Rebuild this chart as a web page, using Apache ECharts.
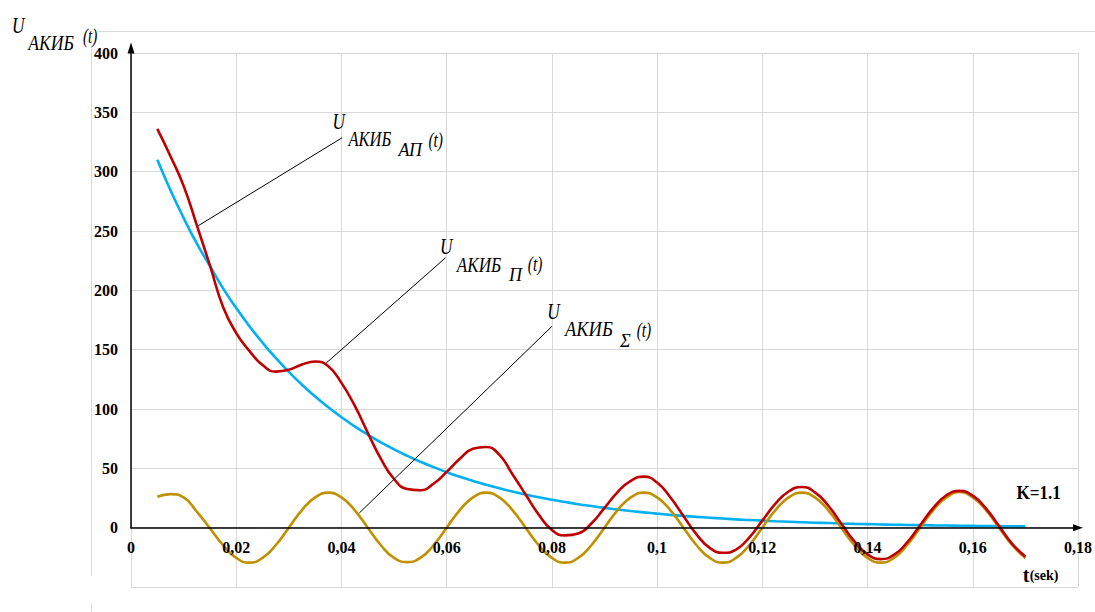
<!DOCTYPE html>
<html>
<head>
<meta charset="utf-8">
<script src="https://cdn.jsdelivr.net/npm/echarts@6/dist/echarts.min.js"></script>
<style>
  html, body { margin: 0; padding: 0; background: #ffffff; }
  #chart { width: 1095px; height: 612px; }
</style>
</head>
<body>
<div id="chart"></div>
<script>
// Time samples, s
const tValues = [
  0.005, 0.0075, 0.01, 0.0125, 0.015, 0.0175, 0.02, 0.0225, 0.025, 0.0275,
  0.03, 0.0325, 0.035, 0.0375, 0.04, 0.0425, 0.045, 0.0475, 0.05, 0.0525,
  0.055, 0.0575, 0.06, 0.0625, 0.065, 0.0675, 0.07, 0.0725, 0.075, 0.0775,
  0.08, 0.0825, 0.085, 0.0875, 0.09, 0.0925, 0.095, 0.0975, 0.1, 0.1025,
  0.105, 0.1075, 0.11, 0.1125, 0.115, 0.1175, 0.12, 0.1225, 0.125, 0.1275,
  0.13, 0.1325, 0.135, 0.1375, 0.14, 0.1425, 0.145, 0.1475, 0.15, 0.1525,
  0.155, 0.1575, 0.16, 0.1625, 0.165, 0.1675, 0.17
];

// Aperiodic (decaying) component
const uAperiodic = [
  310, 284.4, 261, 239.5, 220.5, 201.7, 185.1, 169.8, 155.9, 143,
  131.3, 120.4, 110.5, 101.4, 93.1, 85.4, 78.4, 71.9, 66, 60.6,
  55.6, 51, 46.8, 42.9, 39.4, 36.2, 33.2, 30.4, 27.9, 25.6,
  23.5, 21.6, 19.8, 18.2, 16.7, 15.3, 14, 12.9, 11.8, 10.8,
  9.9, 9.1, 8.4, 7.7, 7, 6.5, 5.9, 5.4, 5, 4.6,
  4.2, 3.9, 3.5, 3.2, 3, 2.7, 2.5, 2.3, 2.1, 1.9,
  1.8, 1.6, 1.5, 1.4, 1.3, 1.2, 1.1
];

// Periodic component
const uPeriodic = [
  26, 28.3, 25.5, 13.5, -0.5, -14.8, -25.5, -29.5, -25.5, -14.8,
  0, 14.8, 25.5, 29.5, 25.5, 14.8, 0, -14.8, -25.5, -29,
  -25.5, -14.8, 0, 14.8, 25.5, 29.5, 25.5, 14.8, 0, -14.8,
  -25.5, -29.5, -25.5, -14.8, 0, 14.8, 25.5, 29.5, 25.5, 14.8,
  0, -14.8, -25.5, -29.5, -25.5, -14.8, 0, 14.8, 25.5, 29.5,
  25.5, 14.8, 0, -14.8, -25.5, -29.5, -25.5, -14.8, 0, 14.8,
  25.5, 30, 25.5, 14.8, 0, -14.8, -25.5
];

// Resulting voltage
const uTotal = [
  336, 313, 288, 255, 221, 186, 164, 149, 137, 131.5,
  133, 137.5, 140, 136, 122, 103, 80, 58, 41, 32.5,
  31.5, 37, 47, 58, 66.5, 68, 61.5, 45, 28, 11,
  -2, -6.5, -5, 3.5, 16.7, 30, 39.5, 43, 38, 25.6,
  9.9, -5.7, -17, -21.2, -18.5, -8.3, 5.9, 20.2, 30.5, 34.3,
  29.7, 18.7, 3.5, -11.6, -22.5, -26.5, -23, -12.5, 2.1, 16.7,
  27.3, 31, 27, 16.2, 1.3, -13.6, -24.4
];

// Leader lines of the curve captions, [from, to] in axis units
const leaderLines = [
  [[0.0128, 254.5], [0.0401, 328.5]],
  [[0.0371, 138.7], [0.0598, 227.5]],
  [[0.0434, 12.4], [0.0800, 169.6]]
];

// Curve captions: anchor (left edge of "U") in axis units, subscript text
const captions = [
  { at: [0.03829, 342.5], sub: 'АП', base: [16, 17.5, 0.75], subPos: [66, 29], tPos: [96, 18.6] },
  { at: [0.05875, 237.7], sub: 'П',  base: [16.7, 19, 0.78], subPos: [69, 29], tPos: [87.7, 18.3] },
  { at: [0.07913, 182.2], sub: 'Σ',  base: [17.7, 17.3, 0.84], subPos: [72.7, 29.3], tPos: [89.4, 17.6] }
];

const SERIF = 'Liberation Serif, Times New Roman, serif';
const GRID_COLOR = '#d9d9d9';

// Plot frame geometry (px)
const PLOT = { left: 131, right: 17, top: 53, bottom: 25 };
const Y_MIN = -50, Y_MAX = 400;
const plotHeight = 612 - PLOT.top - PLOT.bottom;
const zeroFromBottom = PLOT.bottom + plotHeight * (0 - Y_MIN) / (Y_MAX - Y_MIN);

const pairs = (ys) => tValues.map((t, i) => [t, ys[i]]);

const chart = echarts.init(document.getElementById('chart'), null, { renderer: 'svg' });

const lineSeries = (name, ys, color, extra) => Object.assign({
  name: name,
  type: 'line',
  xAxisIndex: 0,
  yAxisIndex: 0,
  data: pairs(ys),
  smooth: 0.5,
  showSymbol: false,
  symbol: 'none',
  silent: true,
  clip: false,
  z: 3,
  lineStyle: { color: color, width: 2.6 }
}, extra || {});

const tickFont = { color: '#000', fontFamily: SERIF, fontWeight: 'bold', fontSize: 16 };

const option = {
  animation: false,
  backgroundColor: '#ffffff',
  grid: [
    // full plotting area with the grid lines and curves
    Object.assign({ containLabel: false, outerBoundsMode: 'none' }, PLOT),
    // upper part above zero, carries the black axes
    { left: PLOT.left, right: PLOT.right, top: PLOT.top, bottom: zeroFromBottom, containLabel: false, outerBoundsMode: 'none' }
  ],
  xAxis: [
    {
      gridIndex: 0, type: 'value', min: 0, max: 0.18, interval: 0.02, z: 0,
      axisLine: { show: false }, axisTick: { show: false }, axisLabel: { show: false },
      splitLine: { show: true, showMinLine: true, showMaxLine: true, lineStyle: { color: GRID_COLOR, width: 1 } }
    },
    {
      gridIndex: 1, type: 'value', min: 0, max: 0.18, interval: 0.02, z: 4,
      axisLine: {
        show: true, onZero: false,
        lineStyle: { color: '#000', width: 1.5 },
        symbol: ['none', 'triangle'],
        symbolSize: [7, 10]
      },
      axisTick: { show: false },
      axisLabel: Object.assign({
        margin: 12,
        showMinLabel: true,
        showMaxLabel: true,
        formatter: (v) => String(+v.toFixed(2)).replace('.', ',')
      }, tickFont),
      splitLine: { show: false }
    }
  ],
  yAxis: [
    {
      gridIndex: 0, type: 'value', min: Y_MIN, max: Y_MAX, interval: 50, z: 0,
      axisLine: { show: false }, axisTick: { show: false }, axisLabel: { show: false },
      splitLine: { show: true, showMinLine: true, showMaxLine: true, lineStyle: { color: GRID_COLOR, width: 1 } }
    },
    {
      gridIndex: 1, type: 'value', min: 0, max: Y_MAX, interval: 50, z: 4,
      axisLine: {
        show: true, onZero: false,
        lineStyle: { color: '#000', width: 1.5 },
        symbol: ['none', 'triangle'],
        symbolSize: [7, 11],
        symbolOffset: [0, 5]
      },
      axisTick: { show: false },
      axisLabel: Object.assign({ margin: 13 }, tickFont),
      splitLine: { show: false }
    }
  ],
  series: [
    lineSeries('U АКИБ АП(t)', uAperiodic, '#00b0f0'),
    lineSeries('U АКИБ П(t)', uPeriodic, '#bf9000'),
    lineSeries('U АКИБ Σ(t)', uTotal, '#c00000', {
      markLine: {
        silent: true, symbol: ['none', 'none'], label: { show: false },
        lineStyle: { color: '#000', width: 1, type: 'solid' },
        data: leaderLines.map(([a, b]) => [{ coord: a }, { coord: b }])
      }
    })
  ]
};

chart.setOption(option);

// ---- captions and titles ----
const toPx = (p) => chart.convertToPixel({ gridIndex: 0 }, p);

const textEl = (text, x, y, size, opts) => {
  opts = opts || {};
  return {
    type: 'text',
    x: x,
    y: y,
    scaleX: opts.sx || 1,
    silent: true,
    z: 100,
    style: {
      text: text,
      fontStyle: opts.italic === false ? 'normal' : 'italic',
      fontWeight: opts.bold ? 'bold' : 'normal',
      fontSize: size,
      fontFamily: SERIF,
      fill: '#000',
      align: 'left',
      verticalAlign: 'middle'
    }
  };
};

const graphics = [];

// outer frame
graphics.push({ type: 'line', silent: true, shape: { x1: 98, y1: 31.5, x2: 1095, y2: 31.5 }, style: { stroke: GRID_COLOR, lineWidth: 1 } });
graphics.push({ type: 'line', silent: true, shape: { x1: 91.5, y1: 47, x2: 91.5, y2: 576 }, style: { stroke: GRID_COLOR, lineWidth: 1 } });
graphics.push({ type: 'line', silent: true, shape: { x1: 91.5, y1: 604, x2: 91.5, y2: 612 }, style: { stroke: GRID_COLOR, lineWidth: 1 } });

// vertical axis title
graphics.push(textEl('U', 12, 25, 24, { sx: 0.72 }));
graphics.push(textEl('АКИБ', 28.3, 43.4, 20, { sx: 0.88 }));
graphics.push(textEl('(t)', 83, 36, 21, { sx: 0.72 }));

// curve captions
captions.forEach((c) => {
  const [px, py] = toPx(c.at);
  graphics.push(textEl('U', px, py, 24, { sx: 0.72 }));
  graphics.push(textEl('АКИБ', px + c.base[0], py + c.base[1], 22, { sx: c.base[2] }));
  graphics.push(textEl(c.sub, px + c.subPos[0], py + c.subPos[1], 18));
  graphics.push(textEl('(t)', px + c.tPos[0], py + c.tPos[1], 22, { sx: 0.7 }));
});

// coefficient note
const kPos = toPx([0.1683, 29.7]);
graphics.push(textEl('K=1.1', kPos[0], kPos[1], 19, { italic: false, bold: true, sx: 0.9 }));

// horizontal axis title
const tPos = toPx([0.16948, -40.2]);
graphics.push(textEl('t', tPos[0], tPos[1], 20, { italic: false, bold: true }));
graphics.push(textEl('(sek)', tPos[0] + 7, tPos[1], 14, { italic: false, bold: true }));

chart.setOption({ graphic: graphics });
</script>
</body>
</html>
